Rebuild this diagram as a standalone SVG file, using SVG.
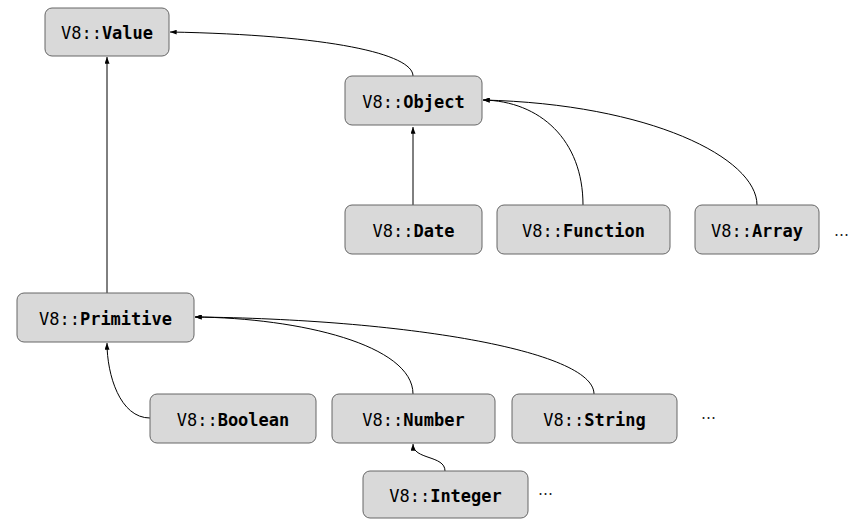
<svg xmlns="http://www.w3.org/2000/svg" width="868" height="531" viewBox="0 0 868 531">
<defs>
<marker id="arr" viewBox="0 0 8 6" refX="8" refY="3" markerWidth="7" markerHeight="5" markerUnits="userSpaceOnUse" orient="auto">
<path d="M0,0 L8,3 L0,6 Z" fill="#000"/>
</marker>
</defs>
<style>
.box{fill:#d9d9d9;stroke:#666;stroke-width:1}
.t{font-family:"DejaVu Sans Mono","Liberation Mono",monospace;font-size:17px;fill:#000;text-anchor:middle}
.b{font-weight:bold}
.e{fill:none;stroke:#000;stroke-width:1;marker-end:url(#arr)}
.dots{font-family:"DejaVu Sans","Liberation Sans",sans-serif;font-size:15px;fill:#222}
</style>
<rect width="868" height="531" fill="#fff"/>
<g id="connectors">
<path class="e" d="M413,76 C413,54 330,35 170,32"/>
<path class="e" d="M107,293 L107,57"/>
<path class="e" d="M413,205 L413,127"/>
<path class="e" d="M583,205 C583,140 540,101 483,100"/>
<path class="e" d="M757,205 C757,158 650,104 483,100"/>
<path class="e" d="M150,418 C120,418 107,375 107,343"/>
<path class="e" d="M413,394 C413,345 300,318 195,317"/>
<path class="e" d="M594,394 C594,350 400,319 195,317"/>
<path class="e" d="M445,471 C445,455 413,460 413,444"/>
</g>
<g id="value"><rect class="box" x="45" y="8" width="124" height="48" rx="7"/><text class="t" x="107" y="39">V8::<tspan class="b">Value</tspan></text></g>
<g id="object"><rect class="box" x="345" y="76" width="137" height="49" rx="7"/><text class="t" x="413.5" y="108">V8::<tspan class="b">Object</tspan></text></g>
<g id="date"><rect class="box" x="345" y="205" width="137" height="49" rx="7"/><text class="t" x="413.5" y="237">V8::<tspan class="b">Date</tspan></text></g>
<g id="function"><rect class="box" x="497" y="205" width="173" height="49" rx="7"/><text class="t" x="583.5" y="237">V8::<tspan class="b">Function</tspan></text></g>
<g id="array"><rect class="box" x="695" y="205" width="124" height="49" rx="7"/><text class="t" x="757" y="237">V8::<tspan class="b">Array</tspan></text></g>
<text class="dots" x="834" y="236">…</text>
<g id="primitive"><rect class="box" x="17" y="293" width="177" height="49" rx="7"/><text class="t" x="105.5" y="325">V8::<tspan class="b">Primitive</tspan></text></g>
<g id="boolean"><rect class="box" x="150" y="394" width="166" height="49" rx="7"/><text class="t" x="233" y="426">V8::<tspan class="b">Boolean</tspan></text></g>
<g id="number"><rect class="box" x="332" y="394" width="163" height="49" rx="7"/><text class="t" x="413.5" y="426">V8::<tspan class="b">Number</tspan></text></g>
<g id="string"><rect class="box" x="512" y="394" width="165" height="49" rx="7"/><text class="t" x="594.5" y="426">V8::<tspan class="b">String</tspan></text></g>
<text class="dots" x="701" y="419">…</text>
<g id="integer"><rect class="box" x="363" y="471" width="165" height="47" rx="7"/><text class="t" x="445.5" y="502">V8::<tspan class="b">Integer</tspan></text></g>
<text class="dots" x="538" y="495">…</text>
</svg>
